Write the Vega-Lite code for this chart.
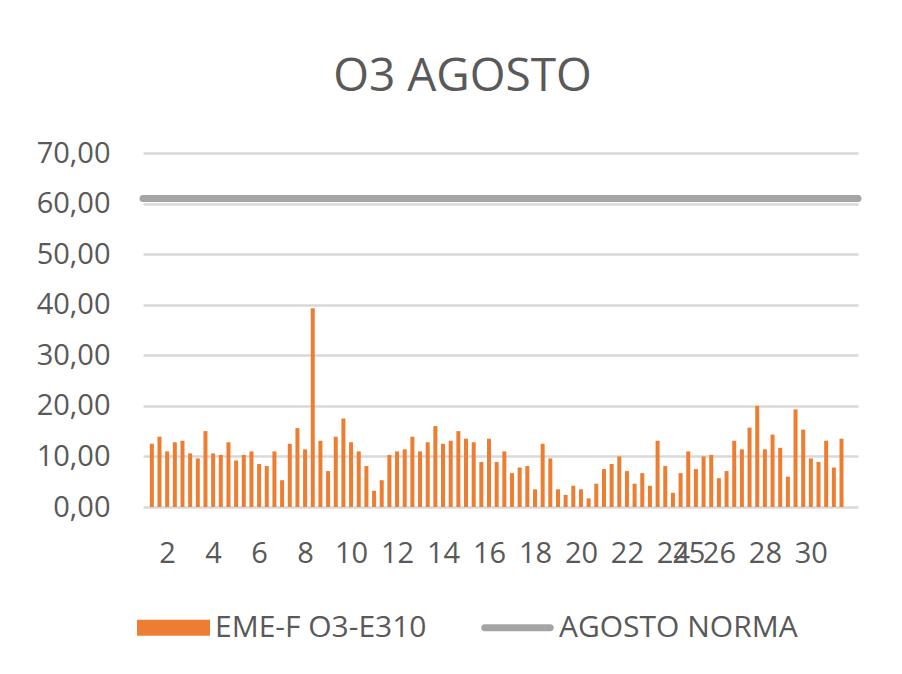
{
  "$schema": "https://vega.github.io/schema/vega-lite/v6.json",
  "width": 715,
  "height": 354,
  "autosize": {"type": "none"},
  "padding": {"left": 143, "top": 153, "right": 44, "bottom": 167},
  "background": "white",
  "title": {
    "text": "O3 AGOSTO",
    "fontSize": 46,
    "fontWeight": "normal",
    "color": "#595959",
    "anchor": "middle",
    "dx": -38,
    "baseline": "alphabetic",
    "offset": 2
  },
  "config": {
    "font": "Open Sans",
    "view": {"stroke": null},
    "axis": {"labelColor": "#595959", "labelFontSize": 29, "labelFont": "Open Sans"}
  },
  "layer": [
    {
      "data": {"values": [
        {"i":0,"v":12.5,"serie":"EME-F O3-E310"},{"i":1,"v":13.9,"serie":"EME-F O3-E310"},{"i":2,"v":11.0,"serie":"EME-F O3-E310"},{"i":3,"v":12.8,"serie":"EME-F O3-E310"},{"i":4,"v":13.1,"serie":"EME-F O3-E310"},{"i":5,"v":10.6,"serie":"EME-F O3-E310"},{"i":6,"v":9.6,"serie":"EME-F O3-E310"},{"i":7,"v":15.0,"serie":"EME-F O3-E310"},{"i":8,"v":10.6,"serie":"EME-F O3-E310"},{"i":9,"v":10.3,"serie":"EME-F O3-E310"},
        {"i":10,"v":12.8,"serie":"EME-F O3-E310"},{"i":11,"v":9.2,"serie":"EME-F O3-E310"},{"i":12,"v":10.3,"serie":"EME-F O3-E310"},{"i":13,"v":11.0,"serie":"EME-F O3-E310"},{"i":14,"v":8.5,"serie":"EME-F O3-E310"},{"i":15,"v":8.1,"serie":"EME-F O3-E310"},{"i":16,"v":11.0,"serie":"EME-F O3-E310"},{"i":17,"v":5.3,"serie":"EME-F O3-E310"},{"i":18,"v":12.5,"serie":"EME-F O3-E310"},{"i":19,"v":15.6,"serie":"EME-F O3-E310"},
        {"i":20,"v":11.4,"serie":"EME-F O3-E310"},{"i":21,"v":39.3,"serie":"EME-F O3-E310"},{"i":22,"v":13.1,"serie":"EME-F O3-E310"},{"i":23,"v":7.1,"serie":"EME-F O3-E310"},{"i":24,"v":13.9,"serie":"EME-F O3-E310"},{"i":25,"v":17.5,"serie":"EME-F O3-E310"},{"i":26,"v":12.8,"serie":"EME-F O3-E310"},{"i":27,"v":11.0,"serie":"EME-F O3-E310"},{"i":28,"v":8.1,"serie":"EME-F O3-E310"},{"i":29,"v":3.2,"serie":"EME-F O3-E310"},
        {"i":30,"v":5.3,"serie":"EME-F O3-E310"},{"i":31,"v":10.3,"serie":"EME-F O3-E310"},{"i":32,"v":11.0,"serie":"EME-F O3-E310"},{"i":33,"v":11.4,"serie":"EME-F O3-E310"},{"i":34,"v":13.9,"serie":"EME-F O3-E310"},{"i":35,"v":11.0,"serie":"EME-F O3-E310"},{"i":36,"v":12.8,"serie":"EME-F O3-E310"},{"i":37,"v":16.0,"serie":"EME-F O3-E310"},{"i":38,"v":12.5,"serie":"EME-F O3-E310"},{"i":39,"v":13.1,"serie":"EME-F O3-E310"},
        {"i":40,"v":15.0,"serie":"EME-F O3-E310"},{"i":41,"v":13.5,"serie":"EME-F O3-E310"},{"i":42,"v":12.8,"serie":"EME-F O3-E310"},{"i":43,"v":8.9,"serie":"EME-F O3-E310"},{"i":44,"v":13.5,"serie":"EME-F O3-E310"},{"i":45,"v":8.9,"serie":"EME-F O3-E310"},{"i":46,"v":11.0,"serie":"EME-F O3-E310"},{"i":47,"v":6.7,"serie":"EME-F O3-E310"},{"i":48,"v":7.8,"serie":"EME-F O3-E310"},{"i":49,"v":8.1,"serie":"EME-F O3-E310"},
        {"i":50,"v":3.5,"serie":"EME-F O3-E310"},{"i":51,"v":12.5,"serie":"EME-F O3-E310"},{"i":52,"v":9.6,"serie":"EME-F O3-E310"},{"i":53,"v":3.5,"serie":"EME-F O3-E310"},{"i":54,"v":2.4,"serie":"EME-F O3-E310"},{"i":55,"v":4.2,"serie":"EME-F O3-E310"},{"i":56,"v":3.5,"serie":"EME-F O3-E310"},{"i":57,"v":1.7,"serie":"EME-F O3-E310"},{"i":58,"v":4.6,"serie":"EME-F O3-E310"},{"i":59,"v":7.5,"serie":"EME-F O3-E310"},
        {"i":60,"v":8.5,"serie":"EME-F O3-E310"},{"i":61,"v":10.0,"serie":"EME-F O3-E310"},{"i":62,"v":7.1,"serie":"EME-F O3-E310"},{"i":63,"v":4.6,"serie":"EME-F O3-E310"},{"i":64,"v":6.7,"serie":"EME-F O3-E310"},{"i":65,"v":4.2,"serie":"EME-F O3-E310"},{"i":66,"v":13.1,"serie":"EME-F O3-E310"},{"i":67,"v":8.1,"serie":"EME-F O3-E310"},{"i":68,"v":2.8,"serie":"EME-F O3-E310"},{"i":69,"v":6.7,"serie":"EME-F O3-E310"},
        {"i":70,"v":11.0,"serie":"EME-F O3-E310"},{"i":71,"v":7.5,"serie":"EME-F O3-E310"},{"i":72,"v":10.0,"serie":"EME-F O3-E310"},{"i":73,"v":10.3,"serie":"EME-F O3-E310"},{"i":74,"v":5.7,"serie":"EME-F O3-E310"},{"i":75,"v":7.1,"serie":"EME-F O3-E310"},{"i":76,"v":13.1,"serie":"EME-F O3-E310"},{"i":77,"v":11.4,"serie":"EME-F O3-E310"},{"i":78,"v":15.7,"serie":"EME-F O3-E310"},{"i":79,"v":20.0,"serie":"EME-F O3-E310"},
        {"i":80,"v":11.4,"serie":"EME-F O3-E310"},{"i":81,"v":14.3,"serie":"EME-F O3-E310"},{"i":82,"v":11.7,"serie":"EME-F O3-E310"},{"i":83,"v":6.0,"serie":"EME-F O3-E310"},{"i":84,"v":19.3,"serie":"EME-F O3-E310"},{"i":85,"v":15.3,"serie":"EME-F O3-E310"},{"i":86,"v":9.6,"serie":"EME-F O3-E310"},{"i":87,"v":8.9,"serie":"EME-F O3-E310"},{"i":88,"v":13.1,"serie":"EME-F O3-E310"},{"i":89,"v":7.8,"serie":"EME-F O3-E310"},
        {"i":90,"v":13.5,"serie":"EME-F O3-E310"}
      ]},
      "mark": {"type": "bar", "size": 4},
      "encoding": {
        "x": {
          "field": "i", "type": "quantitative",
          "scale": {"domain": [-0.5, 91.5], "nice": false, "zero": false},
          "axis": {
            "title": null, "grid": false, "ticks": false, "domain": false,
            "values": [2, 8, 14, 20, 26, 32, 38, 44, 50, 56, 62, 68, 70, 74, 80, 86],
            "labelExpr": "datum.value == 70 ? '25' : format((datum.value + 4) / 3, 'd')",
            "labelOverlap": false, "labelFlush": false, "labelPadding": 32
          }
        },
        "y": {
          "field": "v", "type": "quantitative",
          "scale": {"domain": [0, 70], "nice": false},
          "axis": {
            "title": null, "ticks": false, "domain": false,
            "values": [0, 10, 20, 30, 40, 50, 60, 70],
            "labelExpr": "replace(format(datum.value, '.2f'), '.', ',')",
            "labelPadding": 33,
            "gridColor": "#D9D9D9", "gridWidth": 2.3
          }
        },
        "color": {
          "field": "serie", "type": "nominal",
          "scale": {"domain": ["EME-F O3-E310", "AGOSTO NORMA"], "range": ["#ED7D31", "#A5A5A5"]},
          "legend": {
            "title": null,
            "orient": "none",
            "direction": "horizontal",
            "legendX": -6,
            "legendY": 438,
            "symbolType": "M-1,-0.22H1V0.22H-1Z",
            "symbolSize": 5329,
            "symbolStrokeWidth": 0,
            "labelFontSize": 30,
            "labelColor": "#595959",
            "labelOffset": 5,
            "labelLimit": 400,
            "columnPadding": 54,
            "encode": {
              "symbols": {
                "update": {
                  "shape": {"signal": "datum.value === 'AGOSTO NORMA' ? 'M-0.9,-0.096H0.9A0.096,0.096 0 0 1 0.9,0.096H-0.9A0.096,0.096 0 0 1 -0.9,-0.096Z' : 'M-1,-0.22H1V0.22H-1Z'"}
                }
              }
            }
          }
        }
      }
    },
    {
      "data": {"values": [{"norma": 61}]},
      "mark": {"type": "rule", "color": "#A5A5A5", "strokeWidth": 7, "strokeCap": "round"},
      "encoding": {
        "y": {"field": "norma", "type": "quantitative"}
      }
    }
  ]
}
